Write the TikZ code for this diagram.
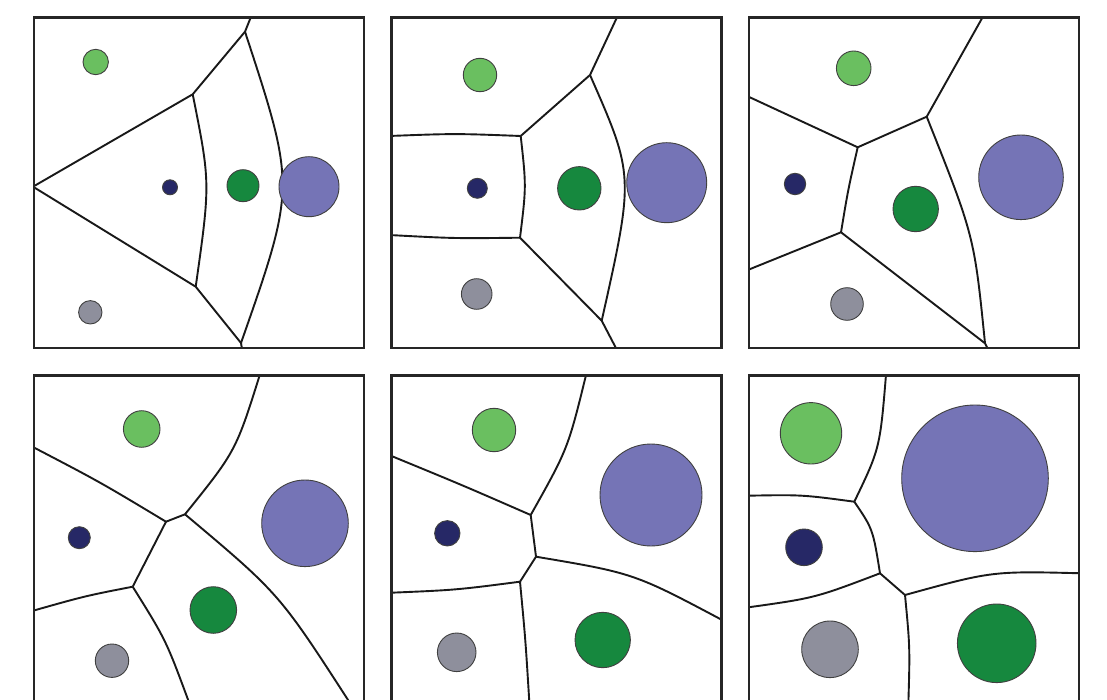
\documentclass[tikz,border=0pt]{standalone}
\definecolor{cLG}{RGB}{106,191,96}
\definecolor{cNV}{RGB}{38,40,102}
\definecolor{cDG}{RGB}{22,136,62}
\definecolor{cPU}{RGB}{117,116,182}
\definecolor{cGR}{RGB}{142,143,156}
\begin{document}
\begin{tikzpicture}[x=1pt,y=-1pt,
  site/.style={circle,draw=black!75,line width=0.9pt,inner sep=0pt,minimum size=#1},
  vline/.style={line width=1.9pt,line join=round,draw=black!90},
  panelframe/.style={line width=2.8pt,draw=black!85}]
\clip (0,0) rectangle (1107,700);
\fill[white] (0,0) rectangle (1107,700);

% ---------------- Panel 1 ----------------
\begin{scope}
\clip (34,17) rectangle (364,348);
\coordinate (a1L) at (33,186.7);
\coordinate (a1A) at (192.7,94.3);
\coordinate (a1B) at (195.7,286.7);
\coordinate (a1C) at (245,31.7);
\coordinate (a1T) at (252.5,13);
\coordinate (a1D) at (241,343);
\coordinate (a1E) at (242.5,352);
\draw[vline] (a1L) -- (a1A) -- (a1C) -- (a1T);
\draw[vline] (a1L) -- (a1B) -- (a1D) -- (a1E);
\draw[vline] (a1A) .. controls (210.4,182.9) .. (a1B);
\draw[vline] (a1C) .. controls (295.75,186.7) .. (a1D);
\end{scope}
\node[site=25.4pt,fill=cLG] (s1g) at (95.7,62) {};
\node[site=15pt,fill=cNV] (s1n) at (170,187.3) {};
\node[site=32pt,fill=cDG] (s1d) at (243,185.7) {};
\node[site=60pt,fill=cPU] (s1p) at (309,186.7) {};
\node[site=23.4pt,fill=cGR] (s1r) at (90.3,312.3) {};
\draw[panelframe] (34,17.5) rectangle (364,348);

% ---------------- Panel 2 ----------------
\begin{scope}
\clip (391.7,17.5) rectangle (721.7,348);
\coordinate (a2L1) at (389,136);
\coordinate (a2L2) at (389,235);
\coordinate (a2P) at (520.7,136);
\coordinate (a2Q) at (520,237.7);
\coordinate (a2R) at (590,75);
\coordinate (a2T) at (619,13);
\coordinate (a2S) at (601.7,320.7);
\coordinate (a2B) at (618,352);
\draw[vline] (a2L1) .. controls (455,133.5) .. (a2P);
\draw[vline] (a2L2) .. controls (455,238.5) .. (a2Q);
\draw[vline] (a2P) .. controls (526.3,186.5) .. (a2Q);
\draw[vline] (a2P) -- (a2R) -- (a2T);
\draw[vline] (a2R) .. controls (634.2,175.5) .. (a2S);
\draw[vline] (a2Q) -- (a2S) -- (a2B);
\end{scope}
\node[site=33.4pt,fill=cLG] (s2g) at (480,75) {};
\node[site=20pt,fill=cNV] (s2n) at (477.3,188.3) {};
\node[site=43.4pt,fill=cDG] (s2d) at (579.3,188.3) {};
\node[site=80pt,fill=cPU] (s2p) at (666.7,182.7) {};
\node[site=30.6pt,fill=cGR] (s2r) at (476.7,294) {};
\draw[panelframe] (391.7,17.5) rectangle (721.7,348);

% ---------------- Panel 3 ----------------
\begin{scope}
\clip (749,17.5) rectangle (1079,348);
\coordinate (a3L1) at (747,96);
\coordinate (a3L2) at (747,270.3);
\coordinate (a3V1) at (857.7,147.3);
\coordinate (a3V2) at (926.7,116.7);
\coordinate (a3T) at (985,13);
\coordinate (a3V3) at (841,232.3);
\coordinate (a3D) at (985,343.3);
\coordinate (a3B) at (989.5,352);
\draw[vline] (a3L1) -- (a3V1) -- (a3V2) -- (a3T);
\draw[vline] (a3V1) .. controls (848,190) .. (a3V3);
\draw[vline] (a3L2) -- (a3V3) -- (a3D) -- (a3B);
\draw[vline] (a3V2) .. controls (974.2,236) .. (a3D);
\end{scope}
\node[site=34.6pt,fill=cLG] (s3g) at (853.7,68.3) {};
\node[site=21.4pt,fill=cNV] (s3n) at (795,184) {};
\node[site=45.4pt,fill=cDG] (s3d) at (915.7,209) {};
\node[site=84.6pt,fill=cPU] (s3p) at (1021,177.3) {};
\node[site=32.6pt,fill=cGR] (s3r) at (847,304) {};
\draw[panelframe] (749,17.5) rectangle (1079,348);

% ---------------- Panel 4 ----------------
\begin{scope}
\clip (34,375.5) rectangle (364,720);
\coordinate (a4L1) at (31,446);
\coordinate (a4L2) at (31,611.3);
\coordinate (a4W1) at (166,521.7);
\coordinate (a4W2) at (185,514.3);
\coordinate (a4T) at (261,371);
\coordinate (a4W3) at (132.7,586.7);
\coordinate (a4E) at (350,703);
\coordinate (a4F) at (190,705);
\draw[vline] (a4L1) .. controls (100,482) .. (a4W1);
\draw[vline] (a4W1) -- (a4W2);
\draw[vline] (a4W2) .. controls (236,451) .. (a4T);
\draw[vline] (a4W2) .. controls (279.3,593.6) .. (a4E);
\draw[vline] (a4W1) -- (a4W3);
\draw[vline] (a4L2) .. controls (85,596) .. (a4W3);
\draw[vline] (a4W3) .. controls (166,640) .. (a4F);
\end{scope}
\node[site=36.6pt,fill=cLG] (s4g) at (141.7,429) {};
\node[site=22pt,fill=cNV] (s4n) at (79.3,537.7) {};
\node[site=86.6pt,fill=cPU] (s4p) at (305,523.3) {};
\node[site=46.6pt,fill=cDG] (s4d) at (213.3,610) {};
\node[site=33.4pt,fill=cGR] (s4r) at (112,660.7) {};
\draw[panelframe] (34,375.5) rectangle (364,720);

% ---------------- Panel 5 ----------------
\begin{scope}
\clip (391.7,375.5) rectangle (721.7,720);
\coordinate (a5L1) at (389,455);
\coordinate (a5L2) at (389,592.8);
\coordinate (a5X1) at (530.7,515);
\coordinate (a5T) at (587,371);
\coordinate (a5X2) at (536,556.7);
\coordinate (a5R) at (724,621);
\coordinate (a5X3) at (520,581.7);
\coordinate (a5B) at (529.5,705);
\draw[vline] (a5L1) .. controls (462,485) .. (a5X1);
\draw[vline] (a5X1) .. controls (568,448.7) .. (a5T);
\draw[vline] (a5X1) -- (a5X2);
\draw[vline] (a5X2) .. controls (634,573.2) .. (a5R);
\draw[vline] (a5X2) -- (a5X3);
\draw[vline] (a5L2) .. controls (456,590) .. (a5X3);
\draw[vline] (a5X3) .. controls (525.5,640) .. (a5B);
\end{scope}
\node[site=43.4pt,fill=cLG] (s5g) at (494,430) {};
\node[site=25.4pt,fill=cNV] (s5n) at (447.3,533.3) {};
\node[site=102pt,fill=cPU] (s5p) at (651,495) {};
\node[site=38.6pt,fill=cGR] (s5r) at (456.7,652.3) {};
\node[site=55.4pt,fill=cDG] (s5d) at (602.7,640) {};
\draw[panelframe] (391.7,375.5) rectangle (721.7,720);

% ---------------- Panel 6 ----------------
\begin{scope}
\clip (749,375.5) rectangle (1079,720);
\coordinate (a6T) at (886.3,371);
\coordinate (a6Y1) at (854.3,501.7);
\coordinate (a6L1) at (747,495.7);
\coordinate (a6L2) at (747,607.5);
\coordinate (a6Y2) at (880,573.3);
\coordinate (a6Y3) at (905,595);
\coordinate (a6R) at (1082,573.3);
\coordinate (a6B) at (908.3,705);
\draw[vline] (a6T) .. controls (880,448.3) .. (a6Y1);
\draw[vline] (a6L1) .. controls (802,494.7) .. (a6Y1);
\draw[vline] (a6Y1) .. controls (872.9,529.1) .. (a6Y2);
\draw[vline] (a6L2) .. controls (815,598) .. (a6Y2);
\draw[vline] (a6Y2) -- (a6Y3);
\draw[vline] (a6Y3) .. controls (992,571) .. (a6R);
\draw[vline] (a6Y3) .. controls (910,647.5) .. (a6B);
\end{scope}
\node[site=61.4pt,fill=cLG] (s6g) at (811,433.3) {};
\node[site=146.6pt,fill=cPU] (s6p) at (975,478.3) {};
\node[site=36.6pt,fill=cNV] (s6n) at (804,547.3) {};
\node[site=56.6pt,fill=cGR] (s6r) at (830,649.3) {};
\node[site=78.6pt,fill=cDG] (s6d) at (996.7,643.3) {};
\draw[panelframe] (749,375.5) rectangle (1079,720);
\end{tikzpicture}
\end{document}
